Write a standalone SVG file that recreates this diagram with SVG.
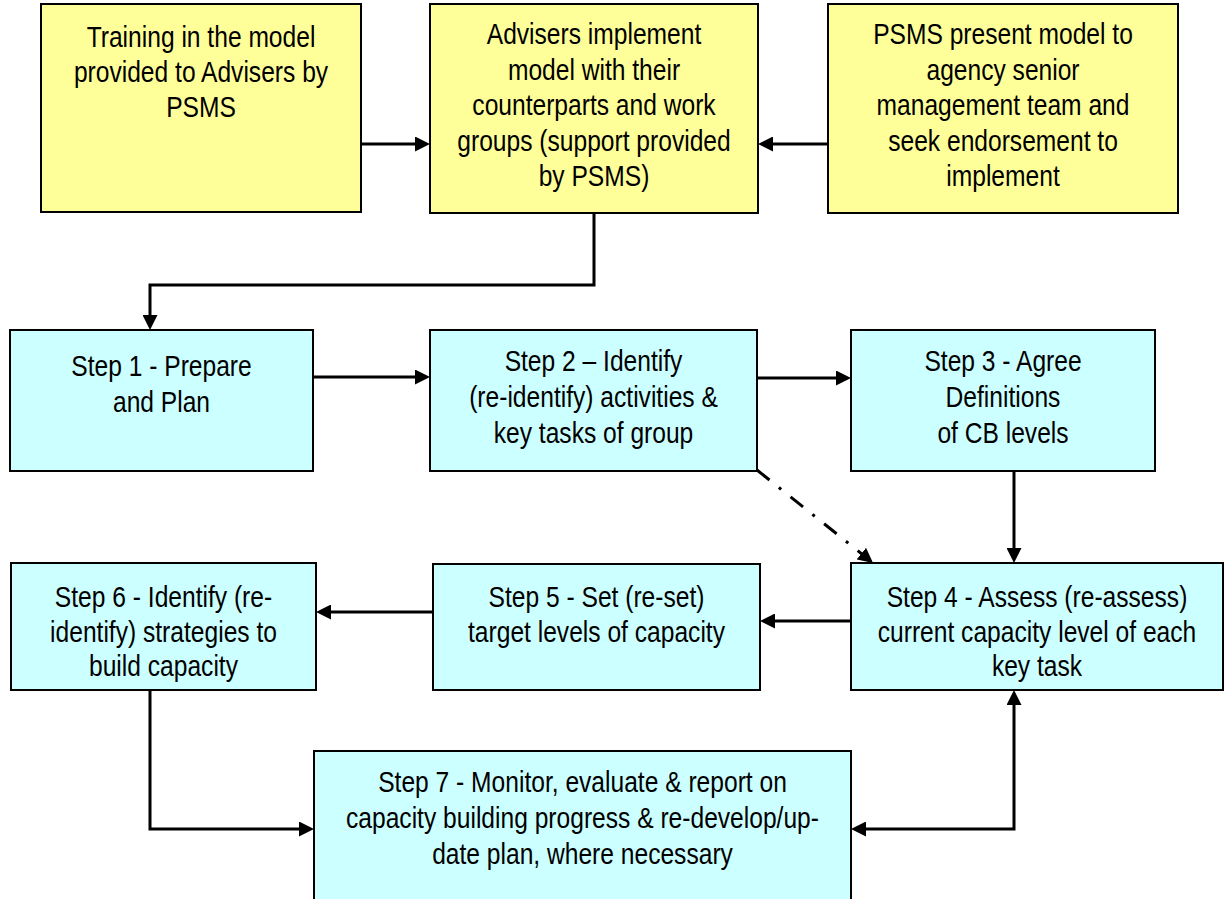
<svg xmlns="http://www.w3.org/2000/svg" width="1227" height="899" viewBox="0 0 1227 899">
<style>
.y{fill:#FFFF99;stroke:#000;stroke-width:2}
.c{fill:#CCFFFF;stroke:#000;stroke-width:2}
text{font-family:"Liberation Sans",Arial,sans-serif;font-size:30px;fill:#000;text-anchor:middle}
.ln{fill:none;stroke:#000;stroke-width:3}
.dd{stroke-dasharray:16 12 3 12}
</style>
<defs>
<marker id="ah" markerUnits="userSpaceOnUse" markerWidth="15" markerHeight="15" refX="7" refY="7.5" orient="auto-start-reverse" viewBox="0 0 15 15">
<path d="M0,0 L15,7.5 L0,15 z" fill="#000"/>
</marker>
</defs>
<rect width="1227" height="899" fill="#fff"/>
<g id="nA"><rect class="y" x="41" y="4" width="320" height="208"/>
<text transform="translate(201,0) scale(0.82,1)"><tspan x="0" y="47">Training in the model</tspan><tspan x="0" y="82">provided to Advisers by</tspan><tspan x="0" y="117">PSMS</tspan></text></g>
<g id="nB"><rect class="y" x="430" y="4" width="328" height="209"/>
<text transform="translate(594,0) scale(0.82,1)"><tspan x="0" y="44">Advisers implement</tspan><tspan x="0" y="80">model with their</tspan><tspan x="0" y="115">counterparts and work</tspan><tspan x="0" y="151">groups (support provided</tspan><tspan x="0" y="186">by PSMS)</tspan></text></g>
<g id="nC"><rect class="y" x="828" y="4" width="350" height="209"/>
<text transform="translate(1003,0) scale(0.82,1)"><tspan x="0" y="44">PSMS present model to</tspan><tspan x="0" y="80">agency senior</tspan><tspan x="0" y="115">management team and</tspan><tspan x="0" y="151">seek endorsement to</tspan><tspan x="0" y="186">implement</tspan></text></g>
<g id="s1"><rect class="c" x="10" y="330" width="303" height="141"/>
<text transform="translate(161.5,0) scale(0.82,1)"><tspan x="0" y="376">Step 1 - Prepare</tspan><tspan x="0" y="412">and Plan</tspan></text></g>
<g id="s2"><rect class="c" x="430" y="330" width="327" height="141"/>
<text transform="translate(593.5,0) scale(0.82,1)"><tspan x="0" y="371">Step 2 – Identify</tspan><tspan x="0" y="407">(re-identify) activities &amp;</tspan><tspan x="0" y="443">key tasks of group</tspan></text></g>
<g id="s3"><rect class="c" x="851" y="330" width="304" height="141"/>
<text transform="translate(1003,0) scale(0.82,1)"><tspan x="0" y="371">Step 3 - Agree</tspan><tspan x="0" y="407">Definitions</tspan><tspan x="0" y="443">of CB levels</tspan></text></g>
<g id="s4"><rect class="c" x="851" y="563" width="372" height="127"/>
<text transform="translate(1037,0) scale(0.82,1)"><tspan x="0" y="607">Step 4 - Assess (re-assess)</tspan><tspan x="0" y="642">current capacity level of each</tspan><tspan x="0" y="676">key task</tspan></text></g>
<g id="s5"><rect class="c" x="433" y="564" width="327" height="126"/>
<text transform="translate(596.5,0) scale(0.82,1)"><tspan x="0" y="607">Step 5 - Set (re-set)</tspan><tspan x="0" y="642">target levels of capacity</tspan></text></g>
<g id="s6"><rect class="c" x="11" y="563" width="305" height="127"/>
<text transform="translate(163.5,0) scale(0.82,1)"><tspan x="0" y="607">Step 6 - Identify (re-</tspan><tspan x="0" y="642">identify) strategies to</tspan><tspan x="0" y="676">build capacity</tspan></text></g>
<g id="s7"><rect class="c" x="314" y="751" width="537" height="160"/>
<text transform="translate(582.5,0) scale(0.82,1)"><tspan x="0" y="792">Step 7 - Monitor, evaluate &amp; report on</tspan><tspan x="0" y="828">capacity building progress &amp; re-develop/up-</tspan><tspan x="0" y="864">date plan, where necessary</tspan></text></g>
<g id="connectors">
<path class="ln" d="M361,144 H422" marker-end="url(#ah)"/>
<path class="ln" d="M828,144 H766" marker-end="url(#ah)"/>
<path class="ln" d="M594,213 V285 H150 V322" marker-end="url(#ah)"/>
<path class="ln" d="M313,377 H422" marker-end="url(#ah)"/>
<path class="ln" d="M757,378 H843" marker-end="url(#ah)"/>
<path class="ln" d="M1014,471 V555" marker-end="url(#ah)"/>
<path class="ln dd" d="M757,470 L866.8,558" marker-end="url(#ah)"/>
<path class="ln" d="M851,621 H768" marker-end="url(#ah)"/>
<path class="ln" d="M433,612 H324" marker-end="url(#ah)"/>
<path class="ln" d="M150,690 V829 H306" marker-end="url(#ah)"/>
<path class="ln" d="M859,829 H1014 V698" marker-start="url(#ah)" marker-end="url(#ah)"/>
</g>
</svg>
